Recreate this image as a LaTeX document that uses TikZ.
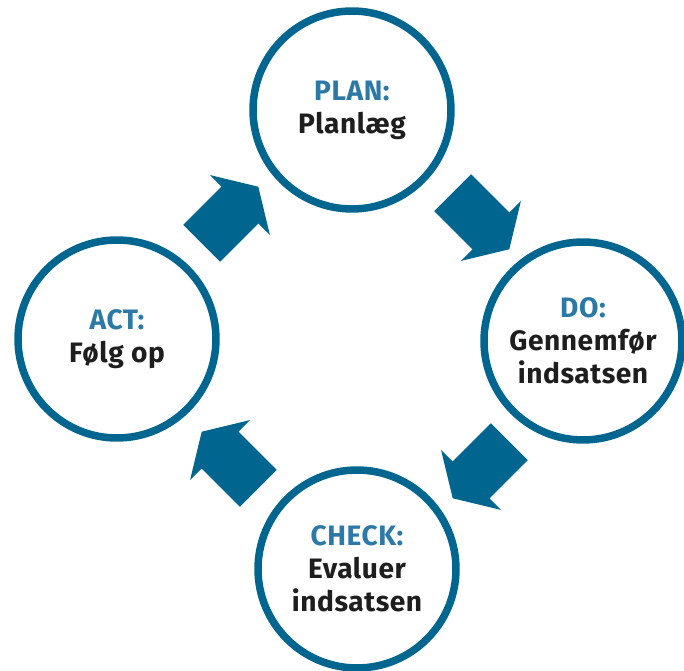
\documentclass[tikz,border=0pt]{standalone}
\usepackage{fontspec}
\setmainfont{Fira Sans}
\newfontfamily\fasefont{Fira Sans}[LetterSpace=2]
\usepackage{tikz}
\definecolor{CyklusBlaa}{HTML}{00668F}
\definecolor{TitelBlaa}{HTML}{2C78A6}
\definecolor{TekstSort}{HTML}{1E1E1E}

\begin{document}
\begin{tikzpicture}[x = .02cm, y = -.02cm,
    fase/.style = {circle, draw = CyklusBlaa, line width = .15cm,
      minimum size = 3.96cm, inner sep = 0pt, align = center,
      text = TekstSort, font = \fasefont\fontsize{16}{18.8}\selectfont\bfseries},
    pil/.style = {fill = CyklusBlaa}]
  \useasboundingbox (0,0) rectangle (684,671);

  % de fire faser
  \node[fase] (plan)  at (352,110) {\textcolor{TitelBlaa}{PLAN:}\\Planlæg};
  \node[fase] (do)    at (583,341) {\textcolor{TitelBlaa}{DO:}\\Gennemfør\\indsatsen};
  \node[fase] (check) at (357,569) {\textcolor{TitelBlaa}{CHECK:}\\Evaluer\\indsatsen};
  \node[fase] (act)   at (117,339) {\textcolor{TitelBlaa}{ACT:}\\Følg op};

  % blokpile mellem faserne
  \foreach \pos/\vinkel in {{(481,221)}/-45, {(481,470)}/-135,
                            {(230,460)}/135, {(230,215)}/45}
    \fill[pil, shift = {\pos}, rotate = \vinkel]
      (-40,-26) -- (14,-26) -- (14,-42.5) -- (40,0)
      -- (14,42.5) -- (14,26) -- (-40,26) -- cycle;
\end{tikzpicture}
\end{document}
